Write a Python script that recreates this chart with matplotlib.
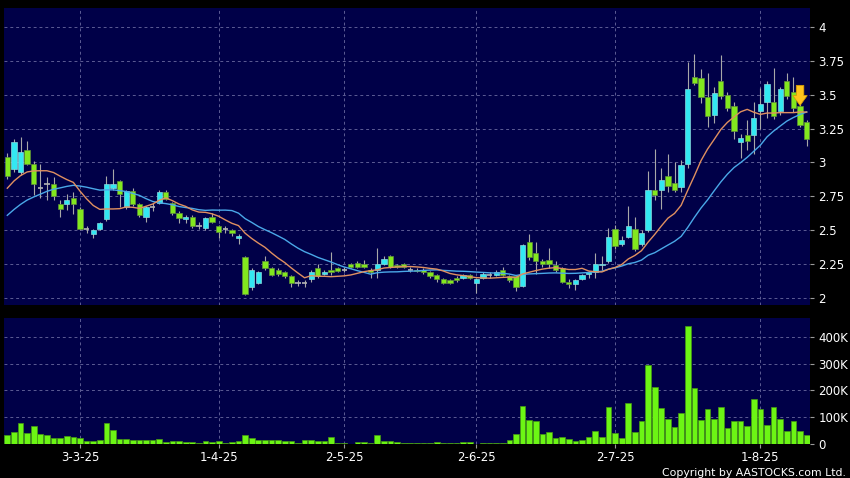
import numpy as np
import pandas as pd
import matplotlib
matplotlib.use("Agg")
import matplotlib.pyplot as plt
from matplotlib.ticker import FuncFormatter

# Daily OHLC (14-2-25 .. 12-8-25)
opens = [3.04, 2.95, 2.93, 3.09, 2.99, 2.81, 2.84, 2.84, 2.69, 2.69,
         2.74, 2.66, 2.51, 2.47, 2.51, 2.58, 2.81, 2.86, 2.67, 2.79,
         2.69, 2.60, 2.67, 2.70, 2.78, 2.70, 2.63, 2.58, 2.60, 2.53,
         2.52, 2.60, 2.53, 2.51, 2.50, 2.44, 2.30, 2.08, 2.11, 2.27,
         2.22, 2.21, 2.19, 2.16, 2.11, 2.11, 2.14, 2.22, 2.18, 2.21,
         2.22, 2.21, 2.25, 2.26, 2.25, 2.21, 2.21, 2.25, 2.31, 2.24, 2.25,
         2.21, 2.21, 2.21, 2.19, 2.17, 2.14, 2.13, 2.15, 2.15, 2.17, 2.11,
         2.15, 2.17, 2.17, 2.21, 2.16, 2.16, 2.09, 2.41, 2.33, 2.27,
         2.28, 2.24, 2.22, 2.12, 2.10, 2.14, 2.18, 2.19, 2.24, 2.27,
         2.51, 2.40, 2.45, 2.51, 2.40, 2.50, 2.80, 2.80, 2.90, 2.85,
         2.82, 2.99, 3.63, 3.62, 3.48, 3.35, 3.60, 3.50, 3.42, 3.15,
         3.20, 3.20, 3.38, 3.45, 3.45, 3.38, 3.60, 3.52, 3.42, 3.30]
highs = [3.07, 3.17, 3.19, 3.16, 3.01, 2.99, 2.89, 2.89, 2.72, 2.77,
         2.78, 2.67, 2.53, 2.51, 2.56, 2.90, 2.95, 2.87, 2.80, 2.81,
         2.70, 2.68, 2.70, 2.80, 2.80, 2.71, 2.64, 2.61, 2.61, 2.56,
         2.60, 2.63, 2.54, 2.53, 2.51, 2.47, 2.31, 2.22, 2.20, 2.31,
         2.23, 2.22, 2.20, 2.17, 2.13, 2.13, 2.21, 2.25, 2.21, 2.34,
         2.23, 2.23, 2.26, 2.27, 2.28, 2.22, 2.37, 2.31, 2.32, 2.25, 2.26,
         2.23, 2.22, 2.22, 2.20, 2.18, 2.15, 2.14, 2.16, 2.18, 2.18, 2.15,
         2.19, 2.19, 2.21, 2.23, 2.17, 2.17, 2.40, 2.47, 2.41, 2.29,
         2.37, 2.27, 2.23, 2.14, 2.14, 2.18, 2.20, 2.33, 2.31, 2.52,
         2.54, 2.46, 2.68, 2.60, 2.50, 2.94, 3.10, 2.96, 3.06, 3.00,
         3.02, 3.74, 3.80, 3.69, 3.66, 3.56, 3.79, 3.52, 3.45, 3.21,
         3.31, 3.45, 3.55, 3.60, 3.70, 3.56, 3.66, 3.63, 3.44, 3.31]
lows = [2.88, 2.93, 2.91, 2.98, 2.76, 2.74, 2.72, 2.72, 2.60, 2.65,
        2.62, 2.50, 2.48, 2.44, 2.50, 2.57, 2.80, 2.67, 2.66, 2.68,
        2.60, 2.56, 2.64, 2.69, 2.72, 2.61, 2.55, 2.55, 2.52, 2.51,
        2.50, 2.55, 2.44, 2.48, 2.46, 2.40, 2.02, 2.06, 2.10, 2.21,
        2.16, 2.16, 2.15, 2.08, 2.09, 2.08, 2.12, 2.15, 2.17, 2.17,
        2.19, 2.19, 2.22, 2.22, 2.22, 2.15, 2.15, 2.24, 2.22, 2.22, 2.22,
        2.19, 2.19, 2.18, 2.15, 2.12, 2.10, 2.10, 2.12, 2.14, 2.14, 2.04,
        2.14, 2.15, 2.16, 2.16, 2.12, 2.05, 2.08, 2.28, 2.18, 2.23,
        2.22, 2.19, 2.11, 2.07, 2.06, 2.13, 2.15, 2.15, 2.21, 2.26,
        2.36, 2.38, 2.44, 2.35, 2.38, 2.49, 2.72, 2.66, 2.78, 2.78,
        2.78, 2.96, 3.57, 3.44, 3.26, 3.29, 3.47, 3.38, 3.17, 3.03,
        3.09, 3.06, 3.25, 3.33, 3.32, 3.35, 3.47, 3.37, 3.26, 3.12]
closes = [2.90, 3.15, 3.08, 2.99, 2.84, 2.81, 2.84, 2.75, 2.66, 2.72,
          2.69, 2.51, 2.51, 2.50, 2.55, 2.84, 2.84, 2.77, 2.79, 2.69,
          2.61, 2.67, 2.67, 2.78, 2.73, 2.63, 2.59, 2.60, 2.53, 2.53,
          2.59, 2.56, 2.49, 2.51, 2.48, 2.46, 2.03, 2.21, 2.19, 2.22,
          2.17, 2.18, 2.16, 2.11, 2.11, 2.11, 2.19, 2.16, 2.19, 2.19,
          2.20, 2.21, 2.23, 2.23, 2.23, 2.19, 2.25, 2.29, 2.23, 2.23, 2.23,
          2.21, 2.20, 2.19, 2.16, 2.14, 2.11, 2.11, 2.13, 2.17, 2.15, 2.14,
          2.18, 2.17, 2.19, 2.17, 2.13, 2.08, 2.39, 2.30, 2.27, 2.25,
          2.25, 2.21, 2.12, 2.10, 2.13, 2.17, 2.19, 2.25, 2.25, 2.45,
          2.38, 2.43, 2.53, 2.36, 2.48, 2.80, 2.76, 2.87, 2.83, 2.80,
          2.98, 3.54, 3.59, 3.48, 3.34, 3.51, 3.49, 3.40, 3.23, 3.18,
          3.16, 3.33, 3.43, 3.58, 3.34, 3.54, 3.49, 3.40, 3.28, 3.17]

# closes before the window, needed for the moving averages at the left edge
prior_closes = [2.30, 2.32, 2.35, 2.38, 2.40, 2.42, 2.44, 2.46, 2.50, 2.53,
                2.62, 2.68, 2.72, 2.76, 2.80, 2.84, 2.88, 2.93, 2.97]

# volume in thousands of shares
volume_k = [35, 44, 78, 40, 67, 37, 34, 24, 24, 29,
            26, 22, 12, 10, 15, 78, 53, 19, 19, 14,
            14, 14, 14, 20, 9, 12, 11, 7, 9, 5,
            11, 7, 10, 2, 9, 10, 34, 22, 16, 16,
            16, 16, 10, 12, 5, 16, 15, 10, 10, 25,
            5, 5, 1, 7, 7, 5, 32, 11, 11, 7, 4,
            4, 4, 2, 4, 9, 5, 4, 4, 6, 6, 0.5,
            2, 4, 4, 4, 14, 39, 142, 91, 87, 37,
            44, 21, 25, 19, 12, 16, 26, 49, 26, 137,
            42, 22, 152, 46, 86, 296, 213, 134, 95, 65,
            116, 442, 208, 91, 129, 93, 139, 60, 86, 86,
            68, 168, 129, 71, 138, 95, 50, 87, 49, 35]

tick_idx = [11, 32, 51, 71, 92, 114]
tick_labels = ["3-3-25", "1-4-25", "2-5-25", "2-6-25", "2-7-25", "1-8-25"]
price_ticks = [2, 2.25, 2.5, 2.75, 3, 3.25, 3.5, 3.75, 4]
vol_ticks = [0, 100000, 200000, 300000, 400000]
signal_idx = 120

o = np.array(opens)
h = np.array(highs)
l = np.array(lows)
c = np.array(closes)
n = len(c)
x = np.arange(n)

full = pd.Series(prior_closes + closes)
ma10 = full.rolling(10).mean().to_numpy()[len(prior_closes):]
ma20 = full.rolling(20).mean().to_numpy()[len(prior_closes):]

fig = plt.figure(figsize=(8.5, 4.78), dpi=100, facecolor="black")
ax = fig.add_axes([0.0047, 0.3619, 0.9482, 0.6213])
axv = fig.add_axes([0.0047, 0.0711, 0.9482, 0.2636])

for a in (ax, axv):
    a.set_facecolor("#000048")
    for s in a.spines.values():
        s.set_visible(False)
    a.set_xlim(-0.5, n - 0.5)
    a.set_xticks(tick_idx)
    a.grid(True, color="#5c5c94", linestyle=(0, (3, 3)), linewidth=0.7)
    a.set_axisbelow(True)
    a.yaxis.tick_right()
    a.tick_params(axis="y", colors="#9a9a9a", labelcolor="white",
                  length=3, labelsize=8.5, pad=3)

# candles
up = c > o + 0.004
down = c < o - 0.004
flat = ~(up | down)
ax.vlines(x, l, h, color="#a8a8a8", linewidth=0.8, zorder=2)
ax.bar(x[up], (c - o)[up], bottom=o[up], width=0.8,
       color="#33e8f2", edgecolor="#8ad8dc", linewidth=0.5, zorder=3)
ax.bar(x[down], (o - c)[down], bottom=c[down], width=0.8,
       color="#82e81e", edgecolor="#5f8f3a", linewidth=0.5, zorder=3)
ax.hlines(c[flat], x[flat] - 0.4, x[flat] + 0.4, color="#b4b4b4",
          linewidth=1.2, zorder=3)

# moving averages
ax.plot(x, ma20, color="#4aa8e8", linewidth=1, zorder=4)
ax.plot(x, ma10, color="#e09060", linewidth=1, zorder=4)

# sell signal arrow
ax.annotate("", xy=(signal_idx, 3.40), xytext=(signal_idx, 3.59),
            arrowprops=dict(arrowstyle="simple,head_width=0.8,head_length=0.55,tail_width=0.42",
                            mutation_scale=13, fc="#ffc41c", ec="#d89a00", lw=0.5),
            zorder=6)

ax.set_ylim(1.948, 4.14)
ax.set_yticks(price_ticks)
ax.yaxis.set_major_formatter(FuncFormatter(lambda v, p: f"{v:g}"))
ax.tick_params(axis="x", length=0, labelbottom=False)

# volume
axv.bar(x, np.array(volume_k) * 1000, width=0.86, color="#6cf514",
        edgecolor="#479a12", linewidth=0.5, zorder=3)
axv.set_ylim(0, 470000)
axv.set_yticks(vol_ticks)
axv.yaxis.set_major_formatter(
    FuncFormatter(lambda v, p: "0" if v == 0 else f"{int(v / 1000)}K"))
axv.set_xticklabels(tick_labels)
axv.tick_params(axis="x", colors="#9a9a9a", labelcolor="white",
                length=3, labelsize=8.5, pad=2)

fig.text(0.995, 0.0, "Copyright by AASTOCKS.com Ltd.", ha="right",
         va="bottom", color="white", fontsize=7.8)

fig.savefig("out.png", dpi=100, facecolor="black")
